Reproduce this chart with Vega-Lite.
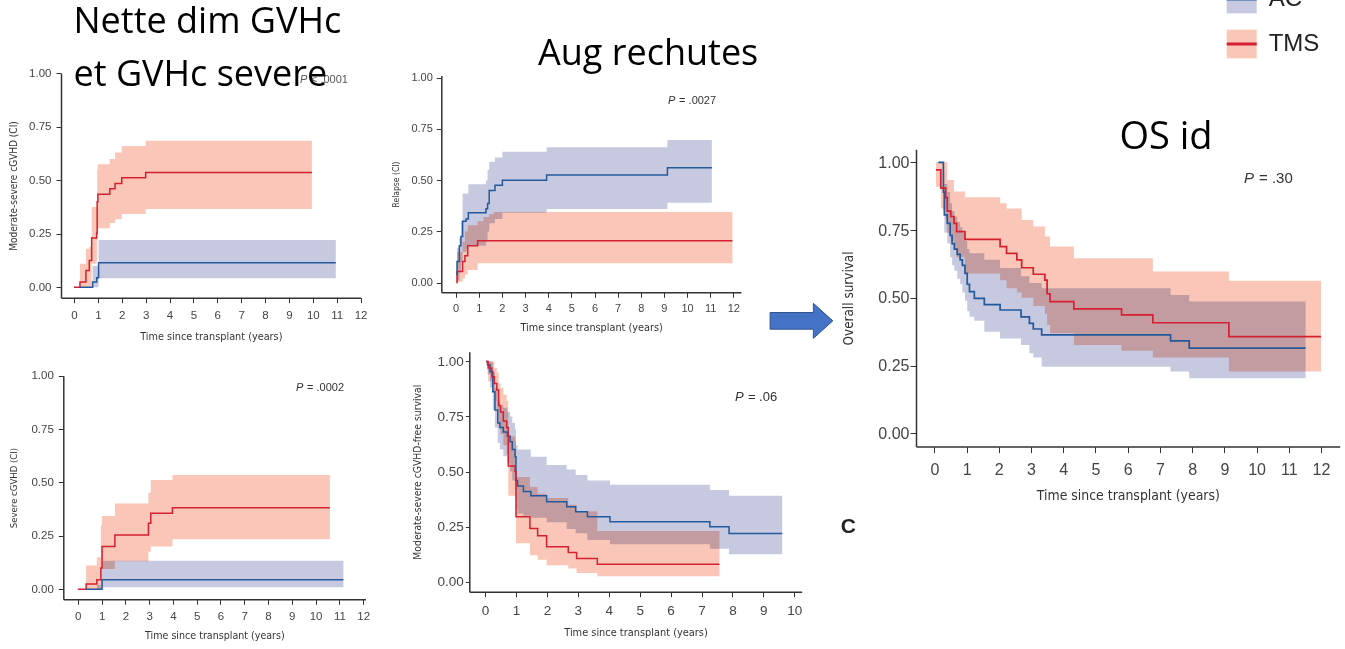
{
  "$schema": "https://vega.github.io/schema/vega-lite/v6.json",
  "width": 1345,
  "height": 649,
  "autosize": {"type": "none"},
  "padding": 0,
  "background": "white",
  "config": {
    "view": {"stroke": null},
    "axis": {"grid": false, "labelFlush": false, "labelOverlap": false, "domainColor": "#333333", "domainWidth": 1.5, "tickColor": "#333333", "tickWidth": 1, "tickSize": 5, "labelColor": "#444444", "labelFont": "Liberation Sans", "titleFont": "Liberation Sans Narrow, DejaVu Sans Condensed, sans-serif", "titleFontWeight": "normal", "titleColor": "#333333"}
  },
  "datasets": {
    "groups": [{"group": "AC"}, {"group": "TMS"}],
    "p1": [
      {"group": "TMS", "t": 0, "est": 0, "lo": 0, "hi": 0},
      {"group": "TMS", "t": 0.25, "est": 0.025, "lo": 0, "hi": 0.11},
      {"group": "TMS", "t": 0.5, "est": 0.078, "lo": 0, "hi": 0.18},
      {"group": "TMS", "t": 0.64, "est": 0.125, "lo": 0, "hi": 0.19},
      {"group": "TMS", "t": 0.74, "est": 0.23, "lo": 0.11, "hi": 0.375},
      {"group": "TMS", "t": 0.95, "est": 0.252, "lo": 0.12, "hi": 0.375},
      {"group": "TMS", "t": 0.97, "est": 0.4, "lo": 0.25, "hi": 0.55},
      {"group": "TMS", "t": 1.0, "est": 0.435, "lo": 0.276, "hi": 0.575},
      {"group": "TMS", "t": 1.5, "est": 0.461, "lo": 0.3, "hi": 0.6},
      {"group": "TMS", "t": 1.72, "est": 0.485, "lo": 0.318, "hi": 0.63},
      {"group": "TMS", "t": 2.0, "est": 0.512, "lo": 0.343, "hi": 0.66},
      {"group": "TMS", "t": 3.0, "est": 0.537, "lo": 0.366, "hi": 0.685},
      {"group": "TMS", "t": 9.96, "est": 0.537, "lo": 0.366, "hi": 0.685},
      {"group": "AC", "t": 0.25, "est": 0, "lo": 0, "hi": 0},
      {"group": "AC", "t": 0.78, "est": 0.025, "lo": 0, "hi": 0.1},
      {"group": "AC", "t": 0.95, "est": 0.045, "lo": 0, "hi": 0.1},
      {"group": "AC", "t": 1.03, "est": 0.115, "lo": 0.042, "hi": 0.221},
      {"group": "AC", "t": 10.96, "est": 0.115, "lo": 0.042, "hi": 0.221}
    ],
    "p2": [
      {"group": "TMS", "t": 0.04, "est": 0, "lo": 0, "hi": 0.05},
      {"group": "TMS", "t": 0.06, "est": 0.054, "lo": 0.005, "hi": 0.15},
      {"group": "TMS", "t": 0.3, "est": 0.103, "lo": 0.02, "hi": 0.2},
      {"group": "TMS", "t": 0.4, "est": 0.131, "lo": 0.04, "hi": 0.25},
      {"group": "TMS", "t": 0.52, "est": 0.18, "lo": 0.062, "hi": 0.28},
      {"group": "TMS", "t": 0.95, "est": 0.205, "lo": 0.095, "hi": 0.3},
      {"group": "TMS", "t": 1.2, "est": 0.205, "lo": 0.095, "hi": 0.32},
      {"group": "TMS", "t": 1.45, "est": 0.205, "lo": 0.095, "hi": 0.335},
      {"group": "TMS", "t": 1.65, "est": 0.205, "lo": 0.095, "hi": 0.345},
      {"group": "TMS", "t": 11.96, "est": 0.205, "lo": 0.095, "hi": 0.345},
      {"group": "AC", "t": 0.04, "est": 0.04, "lo": 0, "hi": 0.1},
      {"group": "AC", "t": 0.06, "est": 0.103, "lo": 0.01, "hi": 0.17},
      {"group": "AC", "t": 0.16, "est": 0.18, "lo": 0.05, "hi": 0.22},
      {"group": "AC", "t": 0.23, "est": 0.225, "lo": 0.1, "hi": 0.3},
      {"group": "AC", "t": 0.3, "est": 0.299, "lo": 0.15, "hi": 0.435},
      {"group": "AC", "t": 0.45, "est": 0.31, "lo": 0.16, "hi": 0.435},
      {"group": "AC", "t": 0.55, "est": 0.341, "lo": 0.18, "hi": 0.48},
      {"group": "AC", "t": 1.31, "est": 0.36, "lo": 0.2, "hi": 0.5},
      {"group": "AC", "t": 1.38, "est": 0.386, "lo": 0.25, "hi": 0.55},
      {"group": "AC", "t": 1.45, "est": 0.449, "lo": 0.29, "hi": 0.59},
      {"group": "AC", "t": 1.7, "est": 0.475, "lo": 0.31, "hi": 0.61},
      {"group": "AC", "t": 2.02, "est": 0.5, "lo": 0.341, "hi": 0.639},
      {"group": "AC", "t": 3.93, "est": 0.525, "lo": 0.359, "hi": 0.66},
      {"group": "AC", "t": 9.15, "est": 0.561, "lo": 0.39, "hi": 0.696},
      {"group": "AC", "t": 11.07, "est": 0.561, "lo": 0.39, "hi": 0.696}
    ],
    "p3": [
      {"group": "TMS", "t": 0, "est": 0, "lo": 0, "hi": 0},
      {"group": "TMS", "t": 0.35, "est": 0.025, "lo": 0, "hi": 0.111},
      {"group": "TMS", "t": 0.8, "est": 0.045, "lo": 0, "hi": 0.15},
      {"group": "TMS", "t": 0.97, "est": 0.1, "lo": 0.02, "hi": 0.3},
      {"group": "TMS", "t": 1.02, "est": 0.2, "lo": 0.095, "hi": 0.343},
      {"group": "TMS", "t": 1.56, "est": 0.254, "lo": 0.131, "hi": 0.402},
      {"group": "TMS", "t": 2.97, "est": 0.309, "lo": 0.176, "hi": 0.452},
      {"group": "TMS", "t": 3.07, "est": 0.356, "lo": 0.2, "hi": 0.512},
      {"group": "TMS", "t": 3.98, "est": 0.382, "lo": 0.234, "hi": 0.535},
      {"group": "TMS", "t": 10.6, "est": 0.382, "lo": 0.234, "hi": 0.535},
      {"group": "AC", "t": 0.35, "est": 0, "lo": 0, "hi": 0},
      {"group": "AC", "t": 0.8, "est": 0, "lo": 0, "hi": 0.02},
      {"group": "AC", "t": 1.02, "est": 0.045, "lo": 0.009, "hi": 0.134},
      {"group": "AC", "t": 11.17, "est": 0.045, "lo": 0.009, "hi": 0.134}
    ],
    "p4": [
      {"group": "AC", "t": 0.03, "est": 1.0, "lo": 1.0, "hi": 1.0},
      {"group": "AC", "t": 0.08, "est": 0.985, "lo": 0.94, "hi": 1.0},
      {"group": "AC", "t": 0.16, "est": 0.953, "lo": 0.88, "hi": 1.0},
      {"group": "AC", "t": 0.25, "est": 0.862, "lo": 0.78, "hi": 0.95},
      {"group": "AC", "t": 0.32, "est": 0.78, "lo": 0.7, "hi": 0.88},
      {"group": "AC", "t": 0.41, "est": 0.72, "lo": 0.63, "hi": 0.82},
      {"group": "AC", "t": 0.48, "est": 0.7, "lo": 0.6, "hi": 0.8},
      {"group": "AC", "t": 0.59, "est": 0.68, "lo": 0.57, "hi": 0.79},
      {"group": "AC", "t": 0.72, "est": 0.66, "lo": 0.54, "hi": 0.77},
      {"group": "AC", "t": 0.81, "est": 0.635, "lo": 0.5, "hi": 0.75},
      {"group": "AC", "t": 0.88, "est": 0.6, "lo": 0.46, "hi": 0.72},
      {"group": "AC", "t": 0.97, "est": 0.567, "lo": 0.42, "hi": 0.69},
      {"group": "AC", "t": 1.0, "est": 0.46, "lo": 0.33, "hi": 0.62},
      {"group": "AC", "t": 1.05, "est": 0.435, "lo": 0.31, "hi": 0.6},
      {"group": "AC", "t": 1.24, "est": 0.41, "lo": 0.3, "hi": 0.6},
      {"group": "AC", "t": 1.48, "est": 0.39, "lo": 0.29, "hi": 0.567},
      {"group": "AC", "t": 1.99, "est": 0.363, "lo": 0.27, "hi": 0.53},
      {"group": "AC", "t": 2.64, "est": 0.34, "lo": 0.24, "hi": 0.51},
      {"group": "AC", "t": 2.93, "est": 0.318, "lo": 0.22, "hi": 0.484},
      {"group": "AC", "t": 3.31, "est": 0.295, "lo": 0.19, "hi": 0.46},
      {"group": "AC", "t": 4.04, "est": 0.272, "lo": 0.17, "hi": 0.44},
      {"group": "AC", "t": 7.27, "est": 0.25, "lo": 0.15, "hi": 0.416},
      {"group": "AC", "t": 7.89, "est": 0.219, "lo": 0.125, "hi": 0.39},
      {"group": "AC", "t": 9.61, "est": 0.219, "lo": 0.125, "hi": 0.39},
      {"group": "TMS", "t": 0.03, "est": 1.0, "lo": 1.0, "hi": 1.0},
      {"group": "TMS", "t": 0.1, "est": 0.97, "lo": 0.91, "hi": 1.0},
      {"group": "TMS", "t": 0.22, "est": 0.93, "lo": 0.86, "hi": 1.0},
      {"group": "TMS", "t": 0.3, "est": 0.9, "lo": 0.82, "hi": 0.97},
      {"group": "TMS", "t": 0.38, "est": 0.87, "lo": 0.78, "hi": 0.95},
      {"group": "TMS", "t": 0.44, "est": 0.8, "lo": 0.7, "hi": 0.9},
      {"group": "TMS", "t": 0.5, "est": 0.77, "lo": 0.67, "hi": 0.88},
      {"group": "TMS", "t": 0.59, "est": 0.73, "lo": 0.62, "hi": 0.85},
      {"group": "TMS", "t": 0.7, "est": 0.7, "lo": 0.58, "hi": 0.82},
      {"group": "TMS", "t": 0.75, "est": 0.525, "lo": 0.39, "hi": 0.66},
      {"group": "TMS", "t": 0.97, "est": 0.5, "lo": 0.37, "hi": 0.64},
      {"group": "TMS", "t": 1.0, "est": 0.295, "lo": 0.175, "hi": 0.476},
      {"group": "TMS", "t": 1.45, "est": 0.242, "lo": 0.12, "hi": 0.43},
      {"group": "TMS", "t": 1.7, "est": 0.209, "lo": 0.1, "hi": 0.4},
      {"group": "TMS", "t": 1.99, "est": 0.159, "lo": 0.075, "hi": 0.38},
      {"group": "TMS", "t": 2.69, "est": 0.133, "lo": 0.06, "hi": 0.35},
      {"group": "TMS", "t": 2.96, "est": 0.106, "lo": 0.04, "hi": 0.32},
      {"group": "TMS", "t": 3.63, "est": 0.08, "lo": 0.025, "hi": 0.23},
      {"group": "TMS", "t": 7.58, "est": 0.08, "lo": 0.025, "hi": 0.23}
    ],
    "p5": [
      {"group": "AC", "t": 0.12, "est": 1.0, "lo": 1.0, "hi": 1.0},
      {"group": "AC", "t": 0.28, "est": 0.89, "lo": 0.82, "hi": 0.96},
      {"group": "AC", "t": 0.31, "est": 0.806, "lo": 0.74, "hi": 0.92},
      {"group": "AC", "t": 0.4, "est": 0.775, "lo": 0.7, "hi": 0.89},
      {"group": "AC", "t": 0.49, "est": 0.73, "lo": 0.65, "hi": 0.85},
      {"group": "AC", "t": 0.55, "est": 0.7, "lo": 0.62, "hi": 0.82},
      {"group": "AC", "t": 0.62, "est": 0.68, "lo": 0.6, "hi": 0.8},
      {"group": "AC", "t": 0.71, "est": 0.66, "lo": 0.57, "hi": 0.78},
      {"group": "AC", "t": 0.8, "est": 0.64, "lo": 0.55, "hi": 0.76},
      {"group": "AC", "t": 0.87, "est": 0.62, "lo": 0.52, "hi": 0.74},
      {"group": "AC", "t": 0.95, "est": 0.59, "lo": 0.49, "hi": 0.71},
      {"group": "AC", "t": 1.02, "est": 0.55, "lo": 0.45, "hi": 0.68},
      {"group": "AC", "t": 1.09, "est": 0.523, "lo": 0.43, "hi": 0.664},
      {"group": "AC", "t": 1.24, "est": 0.498, "lo": 0.415, "hi": 0.664},
      {"group": "AC", "t": 1.55, "est": 0.475, "lo": 0.375, "hi": 0.64},
      {"group": "AC", "t": 2.04, "est": 0.455, "lo": 0.35, "hi": 0.61},
      {"group": "AC", "t": 2.69, "est": 0.43, "lo": 0.326, "hi": 0.58},
      {"group": "AC", "t": 2.95, "est": 0.406, "lo": 0.295, "hi": 0.555},
      {"group": "AC", "t": 3.07, "est": 0.385, "lo": 0.28, "hi": 0.555},
      {"group": "AC", "t": 3.33, "est": 0.363, "lo": 0.246, "hi": 0.535},
      {"group": "AC", "t": 7.33, "est": 0.341, "lo": 0.228, "hi": 0.51},
      {"group": "AC", "t": 7.91, "est": 0.314, "lo": 0.203, "hi": 0.486},
      {"group": "AC", "t": 11.52, "est": 0.314, "lo": 0.203, "hi": 0.486},
      {"group": "TMS", "t": 0.05, "est": 0.972, "lo": 0.91, "hi": 1.0},
      {"group": "TMS", "t": 0.2, "est": 0.905, "lo": 0.83, "hi": 1.0},
      {"group": "TMS", "t": 0.35, "est": 0.87, "lo": 0.79, "hi": 1.0},
      {"group": "TMS", "t": 0.4, "est": 0.82, "lo": 0.74, "hi": 0.935},
      {"group": "TMS", "t": 0.51, "est": 0.8, "lo": 0.71, "hi": 0.935},
      {"group": "TMS", "t": 0.61, "est": 0.775, "lo": 0.68, "hi": 0.892},
      {"group": "TMS", "t": 0.69, "est": 0.744, "lo": 0.65, "hi": 0.892},
      {"group": "TMS", "t": 0.95, "est": 0.716, "lo": 0.59, "hi": 0.871},
      {"group": "TMS", "t": 2.04, "est": 0.689, "lo": 0.565, "hi": 0.849},
      {"group": "TMS", "t": 2.24, "est": 0.664, "lo": 0.535, "hi": 0.83},
      {"group": "TMS", "t": 2.56, "est": 0.64, "lo": 0.52, "hi": 0.83},
      {"group": "TMS", "t": 2.71, "est": 0.611, "lo": 0.5, "hi": 0.787},
      {"group": "TMS", "t": 3.07, "est": 0.587, "lo": 0.47, "hi": 0.763},
      {"group": "TMS", "t": 3.43, "est": 0.565, "lo": 0.44, "hi": 0.726},
      {"group": "TMS", "t": 3.5, "est": 0.515, "lo": 0.4, "hi": 0.726},
      {"group": "TMS", "t": 3.59, "est": 0.486, "lo": 0.369, "hi": 0.689},
      {"group": "TMS", "t": 4.33, "est": 0.459, "lo": 0.326, "hi": 0.646},
      {"group": "TMS", "t": 5.81, "est": 0.437, "lo": 0.305, "hi": 0.646},
      {"group": "TMS", "t": 6.78, "est": 0.408, "lo": 0.28, "hi": 0.597},
      {"group": "TMS", "t": 9.14, "est": 0.357, "lo": 0.228, "hi": 0.563},
      {"group": "TMS", "t": 12.0, "est": 0.357, "lo": 0.228, "hi": 0.563}
    ]
  },
  "layer": [
    {
      "data": {"name": "groups"},
      "layer": [
        {"mark": {"type": "rect", "blend": "multiply"}, "encoding": {
          "x": {"datum": 0, "type": "quantitative", "scale": {"domain": [0, 4], "range": [1226.7, 1346.7], "nice": false, "zero": false}, "axis": null},
          "x2": {"datum": 1},
          "y": {"field": "group", "type": "nominal", "scale": {"domain": ["AC", "TMS"], "range": [-23.5, 66.5], "paddingInner": 0.36, "paddingOuter": 0.18}, "axis": null},
          "fill": {"field": "group", "type": "nominal", "scale": {"domain": ["AC", "TMS"], "range": ["#c7c9e0", "#fac6b7"]}, "legend": null}}},
        {"mark": {"type": "rule", "strokeWidth": 3}, "encoding": {
          "x": {"datum": 0, "type": "quantitative"}, "x2": {"datum": 1},
          "y": {"field": "group", "type": "nominal"},
          "stroke": {"field": "group", "type": "nominal", "scale": {"domain": ["AC", "TMS"], "range": ["#23599b", "#d42030"]}, "legend": null}}},
        {"mark": {"type": "text", "align": "left", "baseline": "middle", "fontSize": 24, "font": "Liberation Sans", "color": "#222222"}, "encoding": {
          "x": {"datum": 1.4, "type": "quantitative"},
          "y": {"field": "group", "type": "nominal"},
          "text": {"field": "group"}}}
      ]
    },
    {
      "data": {"name": "p1"},
      "layer": [
        {"mark": {"type": "area", "interpolate": "step-after", "blend": "multiply"}, "encoding": {
          "x": {"field": "t", "type": "quantitative", "scale": {"domain": [-0.544, 12.0], "range": [61, 360.6], "nice": false, "zero": false}, "axis": {"orient": "bottom", "offset": -351.3, "values": [0,1,2,3,4,5,6,7,8,9,10,11,12], "format": "d", "title": "Time since transplant (years)", "labelFontSize": 11.5, "titleFontSize": 10.8, "labelPadding": 7, "titlePadding": 9}},
          "y": {"field": "lo", "type": "quantitative", "scale": {"domain": [-0.0486, 1.0], "range": [297.7, 73.3], "nice": false, "zero": false}, "axis": {"orient": "left", "offset": -61, "values": [0, 0.25, 0.5, 0.75, 1], "format": ".2f", "title": "Moderate-severe cGVHD (CI)", "labelFontSize": 11.5, "titleFontSize": 10, "labelPadding": 5, "titlePadding": 10}},
          "y2": {"field": "hi"},
          "fill": {"field": "group", "type": "nominal", "legend": null}}},
        {"mark": {"type": "line", "interpolate": "step-after", "strokeWidth": 1.5}, "encoding": {
          "x": {"field": "t", "type": "quantitative"},
          "y": {"field": "est", "type": "quantitative"},
          "stroke": {"field": "group", "type": "nominal", "legend": null}}},
        {"data": {"values": [{"label": "P"}]}, "mark": {"type": "text", "fontStyle": "italic", "fontSize": 11, "align": "left", "baseline": "middle", "color": "#555555", "font": "Liberation Sans"}, "encoding": {"x": {"datum": 9.46, "type": "quantitative"}, "y": {"datum": 0.969, "type": "quantitative"}, "text": {"field": "label"}}},
        {"data": {"values": [{"label": "< .0001"}]}, "mark": {"type": "text", "fontSize": 11, "align": "left", "baseline": "middle", "color": "#555555", "font": "Liberation Sans", "dx": 11}, "encoding": {"x": {"datum": 9.46, "type": "quantitative"}, "y": {"datum": 0.969, "type": "quantitative"}, "text": {"field": "label"}}},
        {"data": {"values": [{"label": "Nette dim GVHc|et GVHc severe"}]}, "mark": {"type": "text", "fontSize": 36, "font": "Open Sans", "align": "left", "baseline": "alphabetic", "lineBreak": "|", "lineHeight": 52.7, "color": "#000000"}, "encoding": {"x": {"datum": -0.02, "type": "quantitative"}, "y": {"datum": 1.187, "type": "quantitative"}, "text": {"field": "label"}}}
      ]
    },
    {
      "data": {"name": "p2"},
      "layer": [
        {"mark": {"type": "area", "interpolate": "step-after", "blend": "multiply"}, "encoding": {
          "x": {"field": "t", "type": "quantitative", "scale": {"domain": [-0.62, 12.33], "range": [441.3, 741], "nice": false, "zero": false}, "axis": {"orient": "bottom", "offset": -356.7, "values": [0,1,2,3,4,5,6,7,8,9,10,11,12], "format": "d", "title": "Time since transplant (years)", "labelFontSize": 11, "titleFontSize": 10.8, "labelPadding": 5, "titlePadding": 8}},
          "y": {"field": "lo", "type": "quantitative", "scale": {"domain": [-0.047, 1.01], "range": [292.3, 75.6], "nice": false, "zero": false}, "axis": {"orient": "left", "offset": -441.3, "values": [0, 0.25, 0.5, 0.75, 1], "format": ".2f", "title": "Relapse (CI)", "labelFontSize": 11, "titleFontSize": 8.5, "labelPadding": 4, "titlePadding": 10}},
          "y2": {"field": "hi"},
          "fill": {"field": "group", "type": "nominal", "legend": null}}},
        {"mark": {"type": "line", "interpolate": "step-after", "strokeWidth": 1.5}, "encoding": {
          "x": {"field": "t", "type": "quantitative"},
          "y": {"field": "est", "type": "quantitative"},
          "stroke": {"field": "group", "type": "nominal", "legend": null}}},
        {"data": {"values": [{"label": "P"}]}, "mark": {"type": "text", "fontStyle": "italic", "fontSize": 11, "align": "left", "baseline": "middle", "color": "#333333", "font": "Liberation Sans"}, "encoding": {"x": {"datum": 9.18, "type": "quantitative"}, "y": {"datum": 0.888, "type": "quantitative"}, "text": {"field": "label"}}},
        {"data": {"values": [{"label": "= .0027"}]}, "mark": {"type": "text", "fontSize": 11, "align": "left", "baseline": "middle", "color": "#333333", "font": "Liberation Sans", "dx": 11}, "encoding": {"x": {"datum": 9.18, "type": "quantitative"}, "y": {"datum": 0.888, "type": "quantitative"}, "text": {"field": "label"}}},
        {"data": {"values": [{"label": "Aug rechutes"}]}, "mark": {"type": "text", "fontSize": 36, "font": "Open Sans", "align": "left", "baseline": "alphabetic", "color": "#000000"}, "encoding": {"x": {"datum": 3.558, "type": "quantitative"}, "y": {"datum": 1.062, "type": "quantitative"}, "text": {"field": "label"}}}
      ]
    },
    {
      "data": {"name": "p3"},
      "layer": [
        {"mark": {"type": "area", "interpolate": "step-after", "blend": "multiply"}, "encoding": {
          "x": {"field": "t", "type": "quantitative", "scale": {"domain": [-0.61, 12.1], "range": [63.3, 365.5], "nice": false, "zero": false}, "axis": {"orient": "bottom", "offset": -49.7, "values": [0,1,2,3,4,5,6,7,8,9,10,11,12], "format": "d", "title": "Time since transplant (years)", "labelFontSize": 11.5, "titleFontSize": 10.6, "labelPadding": 6.4, "titlePadding": 8.5}},
          "y": {"field": "lo", "type": "quantitative", "scale": {"domain": [-0.047, 1.0], "range": [599.3, 375.7], "nice": false, "zero": false}, "axis": {"orient": "left", "offset": -63.3, "values": [0, 0.25, 0.5, 0.75, 1], "format": ".2f", "title": "Severe cGVHD (CI)", "labelFontSize": 11.5, "titleFontSize": 9.5, "labelPadding": 5, "titlePadding": 12.5}},
          "y2": {"field": "hi"},
          "fill": {"field": "group", "type": "nominal", "legend": null}}},
        {"mark": {"type": "line", "interpolate": "step-after", "strokeWidth": 1.5}, "encoding": {
          "x": {"field": "t", "type": "quantitative"},
          "y": {"field": "est", "type": "quantitative"},
          "stroke": {"field": "group", "type": "nominal", "legend": null}}},
        {"data": {"values": [{"label": "P"}]}, "mark": {"type": "text", "fontStyle": "italic", "fontSize": 11, "align": "left", "baseline": "middle", "color": "#333333", "font": "Liberation Sans"}, "encoding": {"x": {"datum": 9.18, "type": "quantitative"}, "y": {"datum": 0.942, "type": "quantitative"}, "text": {"field": "label"}}},
        {"data": {"values": [{"label": "= .0002"}]}, "mark": {"type": "text", "fontSize": 11, "align": "left", "baseline": "middle", "color": "#333333", "font": "Liberation Sans", "dx": 11}, "encoding": {"x": {"datum": 9.18, "type": "quantitative"}, "y": {"datum": 0.942, "type": "quantitative"}, "text": {"field": "label"}}}
      ]
    },
    {
      "data": {"name": "p4"},
      "layer": [
        {"mark": {"type": "area", "interpolate": "step-after", "blend": "multiply"}, "encoding": {
          "x": {"field": "t", "type": "quantitative", "scale": {"domain": [-0.51, 10.24], "range": [469.3, 801.7], "nice": false, "zero": false}, "axis": {"orient": "bottom", "offset": -57.3, "values": [0,1,2,3,4,5,6,7,8,9,10], "format": "d", "title": "Time since transplant (years)", "labelFontSize": 13.5, "titleFontSize": 10.9, "labelPadding": 6.5, "titlePadding": 10}},
          "y": {"field": "lo", "type": "quantitative", "scale": {"domain": [-0.045, 1.044], "range": [591.7, 351.7], "nice": false, "zero": false}, "axis": {"orient": "left", "offset": -469.3, "values": [0, 0.25, 0.5, 0.75, 1], "format": ".2f", "title": "Moderate-severe cGVHD-free survival", "labelFontSize": 13.5, "titleFontSize": 10.3, "tickSize": 4, "labelPadding": 2, "titlePadding": 15}},
          "y2": {"field": "hi"},
          "fill": {"field": "group", "type": "nominal", "legend": null}}},
        {"mark": {"type": "line", "interpolate": "step-after", "strokeWidth": 1.5}, "encoding": {
          "x": {"field": "t", "type": "quantitative"},
          "y": {"field": "est", "type": "quantitative"},
          "stroke": {"field": "group", "type": "nominal", "legend": null}}},
        {"data": {"values": [{"label": "P"}]}, "mark": {"type": "text", "fontStyle": "italic", "fontSize": 13, "align": "left", "baseline": "middle", "color": "#333333", "font": "Liberation Sans"}, "encoding": {"x": {"datum": 8.08, "type": "quantitative"}, "y": {"datum": 0.837, "type": "quantitative"}, "text": {"field": "label"}}},
        {"data": {"values": [{"label": "= .06"}]}, "mark": {"type": "text", "fontSize": 13, "align": "left", "baseline": "middle", "color": "#333333", "font": "Liberation Sans", "dx": 13}, "encoding": {"x": {"datum": 8.08, "type": "quantitative"}, "y": {"datum": 0.837, "type": "quantitative"}, "text": {"field": "label"}}}
      ]
    },
    {
      "data": {"name": "p5"},
      "layer": [
        {"mark": {"type": "area", "interpolate": "step-after", "blend": "multiply"}, "encoding": {
          "x": {"field": "t", "type": "quantitative", "scale": {"domain": [-0.57, 12.58], "range": [916, 1339.7], "nice": false, "zero": false}, "axis": {"orient": "bottom", "offset": -202.4, "values": [0,1,2,3,4,5,6,7,8,9,10,11,12], "format": "d", "title": "Time since transplant (years)", "labelFontSize": 16, "titleFontSize": 13.9, "tickSize": 6, "labelPadding": 9, "titlePadding": 11}},
          "y": {"field": "lo", "type": "quantitative", "scale": {"domain": [-0.049, 1.048], "range": [446.6, 149.3], "nice": false, "zero": false}, "axis": {"orient": "left", "offset": -916, "values": [0, 0.25, 0.5, 0.75, 1], "format": ".2f", "title": "Overall survival", "labelFontSize": 16, "titleFontSize": 13.4, "tickSize": 6, "labelPadding": 1, "titlePadding": 22}},
          "y2": {"field": "hi"},
          "fill": {"field": "group", "type": "nominal", "legend": null}}},
        {"mark": {"type": "line", "interpolate": "step-after", "strokeWidth": 1.7}, "encoding": {
          "x": {"field": "t", "type": "quantitative"},
          "y": {"field": "est", "type": "quantitative"},
          "stroke": {"field": "group", "type": "nominal", "legend": null}}},
        {"data": {"values": [{"label": "P"}]}, "mark": {"type": "text", "fontStyle": "italic", "fontSize": 15, "align": "left", "baseline": "middle", "color": "#333333", "font": "Liberation Sans"}, "encoding": {"x": {"datum": 9.61, "type": "quantitative"}, "y": {"datum": 0.943, "type": "quantitative"}, "text": {"field": "label"}}},
        {"data": {"values": [{"label": "= .30"}]}, "mark": {"type": "text", "fontSize": 15, "align": "left", "baseline": "middle", "color": "#333333", "font": "Liberation Sans", "dx": 15}, "encoding": {"x": {"datum": 9.61, "type": "quantitative"}, "y": {"datum": 0.943, "type": "quantitative"}, "text": {"field": "label"}}},
        {"data": {"values": [{"label": "OS id"}]}, "mark": {"type": "text", "fontSize": 38, "font": "Open Sans", "align": "left", "baseline": "alphabetic", "color": "#000000"}, "encoding": {"x": {"datum": 5.745, "type": "quantitative"}, "y": {"datum": 1.048, "type": "quantitative"}, "text": {"field": "label"}}},
        {"data": {"values": [{"label": "arrow"}]}, "mark": {"type": "point", "shape": "M-1,-0.265L0.38,-0.265L0.38,-0.558L1,0L0.38,0.558L0.38,0.265L-1,0.265Z", "size": 3931, "filled": true, "fill": "#4472c4", "stroke": "#2f528f", "strokeWidth": 1, "opacity": 1}, "encoding": {"x": {"datum": -4.125, "type": "quantitative"}, "y": {"datum": 0.415, "type": "quantitative"}}},
        {"data": {"values": [{"label": "C"}]}, "mark": {"type": "text", "fontSize": 21, "fontWeight": "bold", "align": "center", "baseline": "middle", "color": "#222222", "font": "Liberation Sans"}, "encoding": {"x": {"datum": -2.67, "type": "quantitative"}, "y": {"datum": -0.345, "type": "quantitative"}, "text": {"field": "label"}}}
      ]
    }
  ],
  "resolve": {"scale": {"x": "independent", "y": "independent"}, "axis": {"x": "independent", "y": "independent"}}
}
